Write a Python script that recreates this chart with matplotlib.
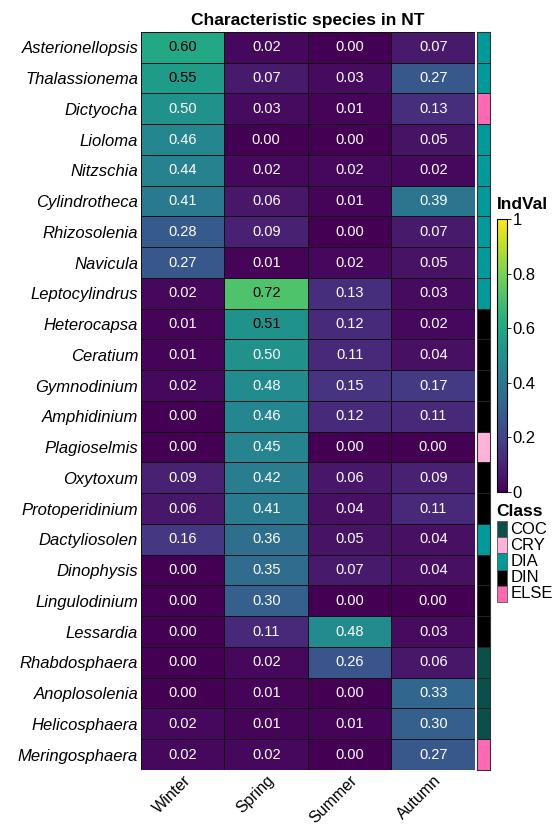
import matplotlib.pyplot as plt
import numpy as np
from matplotlib.colors import ListedColormap
from matplotlib.patches import Rectangle

plt.rcParams['font.family'] = ['Liberation Sans', 'DejaVu Sans']

species = ['Asterionellopsis', 'Thalassionema', 'Dictyocha', 'Lioloma', 'Nitzschia',
           'Cylindrotheca', 'Rhizosolenia', 'Navicula', 'Leptocylindrus', 'Heterocapsa',
           'Ceratium', 'Gymnodinium', 'Amphidinium', 'Plagioselmis', 'Oxytoxum',
           'Protoperidinium', 'Dactyliosolen', 'Dinophysis', 'Lingulodinium', 'Lessardia',
           'Rhabdosphaera', 'Anoplosolenia', 'Helicosphaera', 'Meringosphaera']
seasons = ['Winter', 'Spring', 'Summer', 'Autumn']

winter = [0.60, 0.55, 0.50, 0.46, 0.44, 0.41, 0.28, 0.27, 0.02, 0.01, 0.01, 0.02,
          0.00, 0.00, 0.09, 0.06, 0.16, 0.00, 0.00, 0.00, 0.00, 0.00, 0.02, 0.02]
spring = [0.02, 0.07, 0.03, 0.00, 0.02, 0.06, 0.09, 0.01, 0.72, 0.51, 0.50, 0.48,
          0.46, 0.45, 0.42, 0.41, 0.36, 0.35, 0.30, 0.11, 0.02, 0.01, 0.01, 0.02]
summer = [0.00, 0.03, 0.01, 0.00, 0.02, 0.01, 0.00, 0.02, 0.13, 0.12, 0.11, 0.15,
          0.12, 0.00, 0.06, 0.04, 0.05, 0.07, 0.00, 0.48, 0.26, 0.00, 0.01, 0.00]
autumn = [0.07, 0.27, 0.13, 0.05, 0.02, 0.39, 0.07, 0.05, 0.03, 0.02, 0.04, 0.17,
          0.11, 0.00, 0.09, 0.11, 0.04, 0.04, 0.00, 0.03, 0.06, 0.33, 0.30, 0.27]

classes = ['DIA', 'DIA', 'ELSE', 'DIA', 'DIA', 'DIA', 'DIA', 'DIA', 'DIA', 'DIN',
           'DIN', 'DIN', 'DIN', 'CRY', 'DIN', 'DIN', 'DIA', 'DIN', 'DIN', 'DIN',
           'COC', 'COC', 'COC', 'ELSE']
class_names = ['COC', 'CRY', 'DIA', 'DIN', 'ELSE']
class_colors = ['#0A4F4A', '#FFB3DA', '#009A98', '#000000', '#FF69B4']

vals = np.array([winter, spring, summer, autumn]).T
n = len(species)

fig = plt.figure(figsize=(5.56, 8.26), dpi=100)

# main heatmap
ax = fig.add_axes([0.2536, 0.0678, 0.6007, 0.8935])
im = ax.pcolormesh(vals, cmap='viridis', vmin=0, vmax=1, edgecolors='#111111',
                   linewidth=0.5, snap=True)
ax.set_xlim(0, 4)
ax.set_ylim(n, 0)
for i in range(n):
    for j in range(4):
        v = vals[i, j]
        ax.text(j + 0.5, i + 0.5, f'{v:.2f}', ha='center', va='center', fontsize=10.5,
                color='black' if v > 0.505 else 'white')
ax.set_yticks(np.arange(n) + 0.5)
ax.set_yticklabels(species, fontsize=12, style='italic')
ax.set_xticks(np.arange(4) + 0.5)
ax.set_xticklabels(seasons, fontsize=11.5, rotation=45, ha='right', rotation_mode='anchor')
ax.tick_params(length=0, pad=2)
for s in ax.spines.values():
    s.set_visible(False)
ax.set_title('Characteristic species in NT', fontsize=12.5, fontweight='bold', pad=5)

# class annotation bar
cax = fig.add_axes([0.8579, 0.0678, 0.0234, 0.8935])
cidx = np.array([[class_names.index(c)] for c in classes])
cax.pcolormesh(cidx, cmap=ListedColormap(class_colors), vmin=-0.5, vmax=4.5,
               edgecolors='#222222', linewidth=0.5, snap=True)
cax.set_xlim(0, 1)
cax.set_ylim(n, 0)
cax.set_xticks([])
cax.set_yticks([])
for s in cax.spines.values():
    s.set_edgecolor('#333333')
    s.set_linewidth(0.8)

# colorbar
cbax = fig.add_axes([0.894, 0.4044, 0.018, 0.3305])
cb = fig.colorbar(im, cax=cbax, ticks=[0, 0.2, 0.4, 0.6, 0.8, 1])
cb.ax.set_yticklabels(['0', '0.2', '0.4', '0.6', '0.8', '1'])
cb.ax.tick_params(labelsize=12, length=3, width=0.6, pad=1)
cb.outline.set_linewidth(0.8)
fig.text(0.893, 0.7465, 'IndVal', fontsize=12.5, fontweight='bold', ha='left', va='baseline')

# class legend
fig.text(0.893, 0.3753, 'Class', fontsize=12.5, fontweight='bold', ha='left', va='baseline')
ph = 16.2 / 826
top = 1 - 521 / 826
for k, (nm, col) in enumerate(zip(class_names, class_colors)):
    y0 = top - (k + 1) * ph
    fig.patches.append(Rectangle((0.894, y0), 0.018, ph, transform=fig.transFigure,
                                 facecolor=col, edgecolor='#555555', linewidth=0.6))
    fig.text(0.918, y0 + ph / 2, nm, fontsize=12, ha='left', va='center')

fig.savefig('out.png', dpi=100)
